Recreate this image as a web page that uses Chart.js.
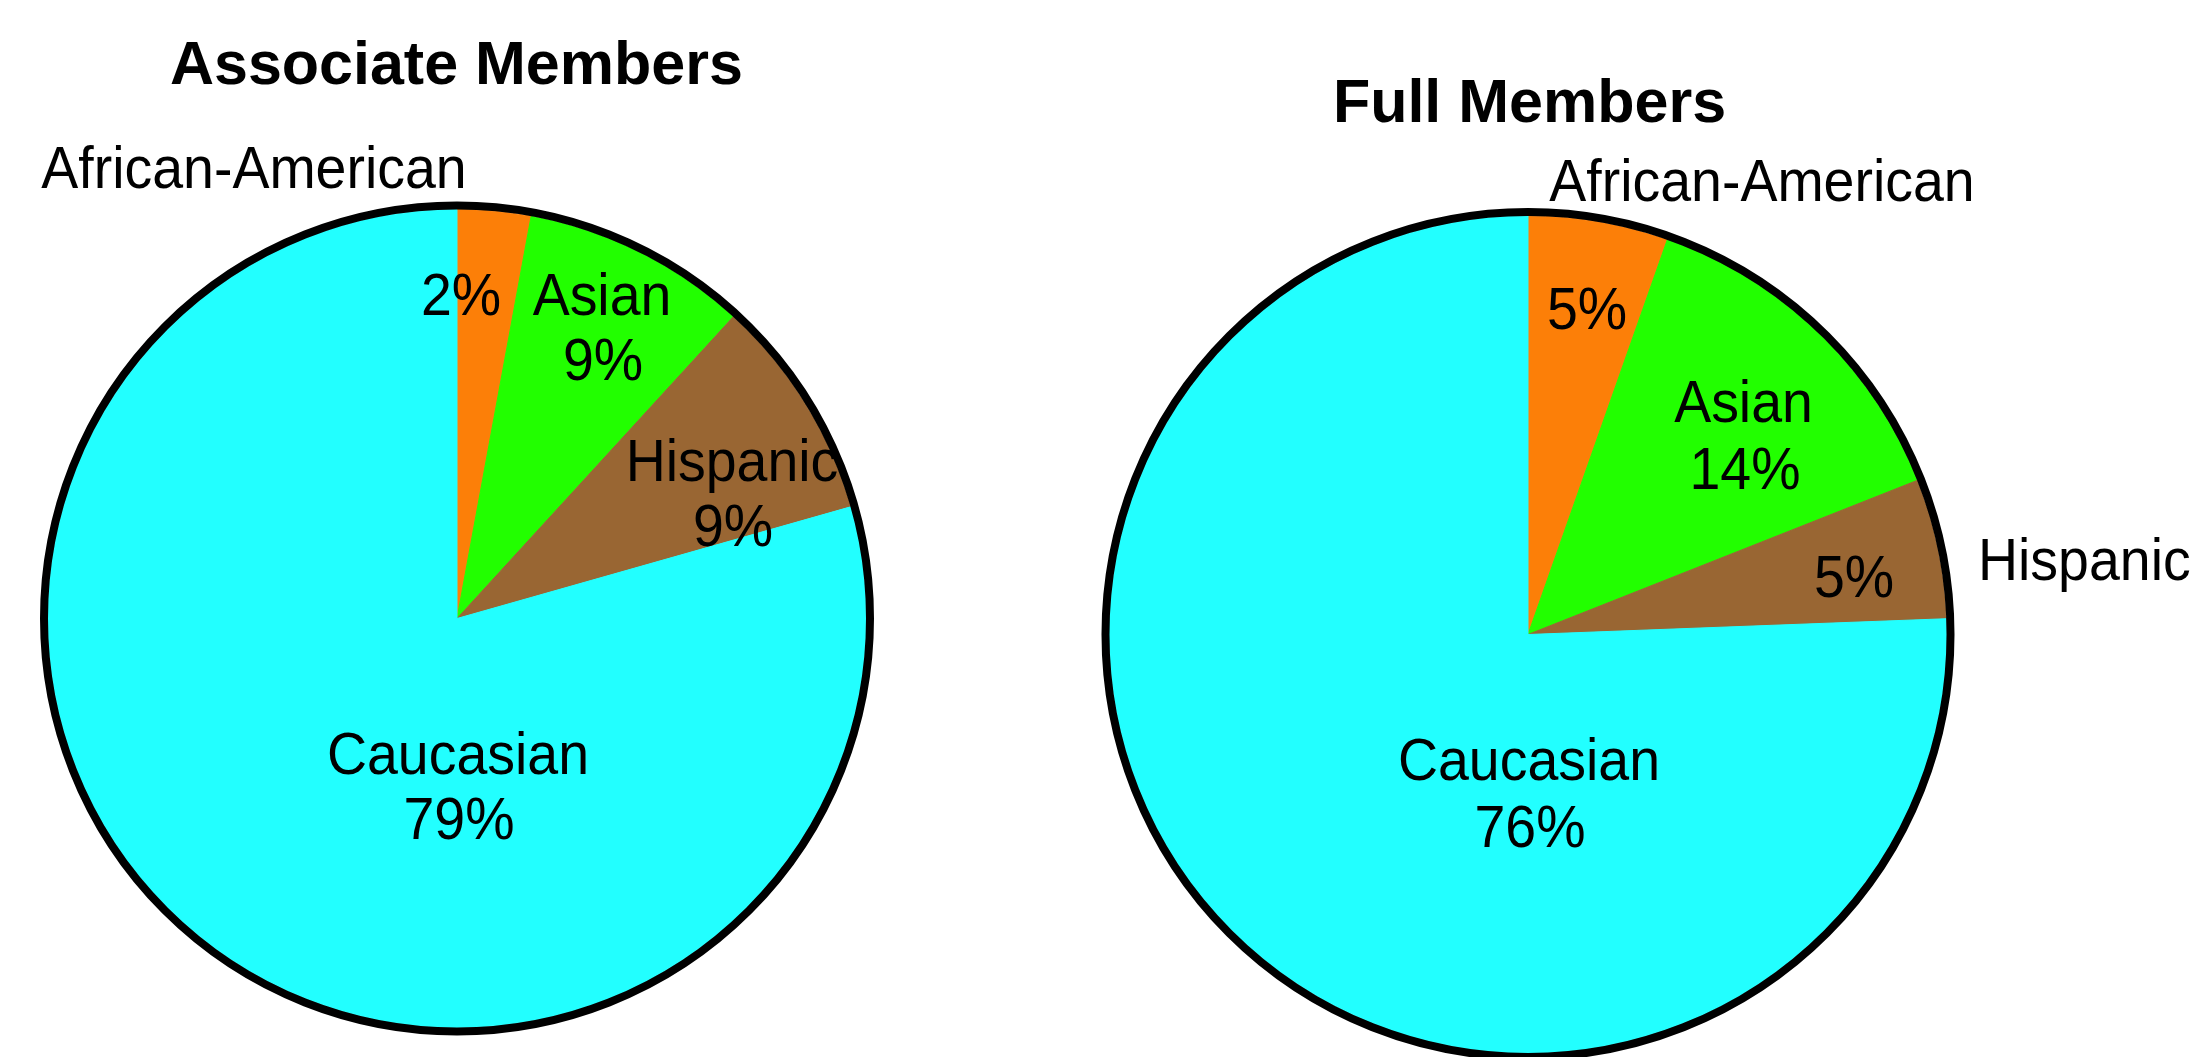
<!DOCTYPE html>
<html><head><meta charset="utf-8">
<script src="https://cdn.jsdelivr.net/npm/chart.js@4.4.1/dist/chart.umd.min.js"></script>
<style>
html,body{margin:0;padding:0;background:#fff;overflow:hidden;width:2191px;height:1057px;}
canvas{position:absolute;left:0;top:0;}
</style></head><body>
<canvas id="assoc" width="2191" height="1057"></canvas>
<canvas id="full" width="2191" height="1057"></canvas>
<script>
// ---- data ----
const categories = ['African-American', 'Asian', 'Hispanic', 'Caucasian'];
const associateValues = [2.9, 8.9, 8.8, 79.4];
const fullValues = [5.4, 13.6, 5.4, 75.6];
const associatePctLabels = ['2%', '9%', '9%', '79%'];
const fullPctLabels = ['5%', '14%', '5%', '76%'];
const titles = ['Associate Members', 'Full Members'];
const sliceColors = ['#FC7F08', '#22FF00', '#996633', '#22FFFF'];

// ---- label layout (pixel offsets from the pie centre, baseline) ----
const assocLayout = {
  title: [-0.6, -535],
  name: [[-203, -430.5], [145, -303.5], [275, -137.5], [1, 155.5]],
  pct: [[4, -303.5], [146, -238.5], [276, -72.5], [2, 220.5]]
};
const fullLayout = {
  title: [1.5, -512.5],
  name: [[234, -433.8], [215.5, -212.5], [450, -55, 'left'], [1, 145.5]],
  pct: [[59, -305.5], [217, -146], [326, -37.5], [2, 212]]
};

const FONT = '"Liberation Sans", Arial, Helvetica, sans-serif';

const overlay = {
  id: 'overlay',
  afterDatasetsDraw(chart, args, opts) {
    const arc = chart.getDatasetMeta(0).data[0];
    const x = arc.x, y = arc.y, r = arc.outerRadius;
    const ctx = chart.ctx;
    ctx.save();
    ctx.beginPath();
    ctx.arc(x, y, r + 4, 0, Math.PI * 2);
    ctx.lineWidth = 8;
    ctx.strokeStyle = '#000';
    ctx.stroke();
    ctx.fillStyle = '#000';
    ctx.textBaseline = 'alphabetic';
    ctx.textAlign = 'center';
    ctx.font = 'bold 61px ' + FONT;
    ctx.fillText(opts.title, x + opts.layout.title[0], y + opts.layout.title[1]);
    ctx.font = '59px ' + FONT;
    const draw = (text, p) => {
      ctx.save();
      ctx.translate(x + p[0], y + p[1]);
      ctx.scale(0.94, 1);
      ctx.textAlign = p[2] || 'center';
      ctx.fillText(text, 0, 0);
      ctx.restore();
    };
    chart.data.labels.forEach((lab, i) => {
      draw(lab, opts.layout.name[i]);
      draw(opts.pct[i], opts.layout.pct[i]);
    });
    ctx.restore();
  }
};

function makePie(id, values, pct, title, layout, padding) {
  return new Chart(document.getElementById(id), {
    type: 'pie',
    data: {
      labels: categories,
      datasets: [{
        data: values,
        backgroundColor: sliceColors,
        borderColor: sliceColors,
        borderWidth: 1
      }]
    },
    options: {
      responsive: false,
      animation: false,
      devicePixelRatio: 1,
      layout: { padding: padding },
      plugins: {
        legend: { display: false },
        tooltip: { enabled: false },
        overlay: { title: title, layout: layout, pct: pct }
      }
    },
    plugins: [overlay]
  });
}

makePie('assoc', associateValues, associatePctLabels, titles[0], assocLayout,
  { left: 47.5, top: 209, right: 1324.5, bottom: 29 });
makePie('full', fullValues, fullPctLabels, titles[1], fullLayout,
  { left: 1109, top: 215.5, right: 244, bottom: 3.5 });
</script>
</body></html>
